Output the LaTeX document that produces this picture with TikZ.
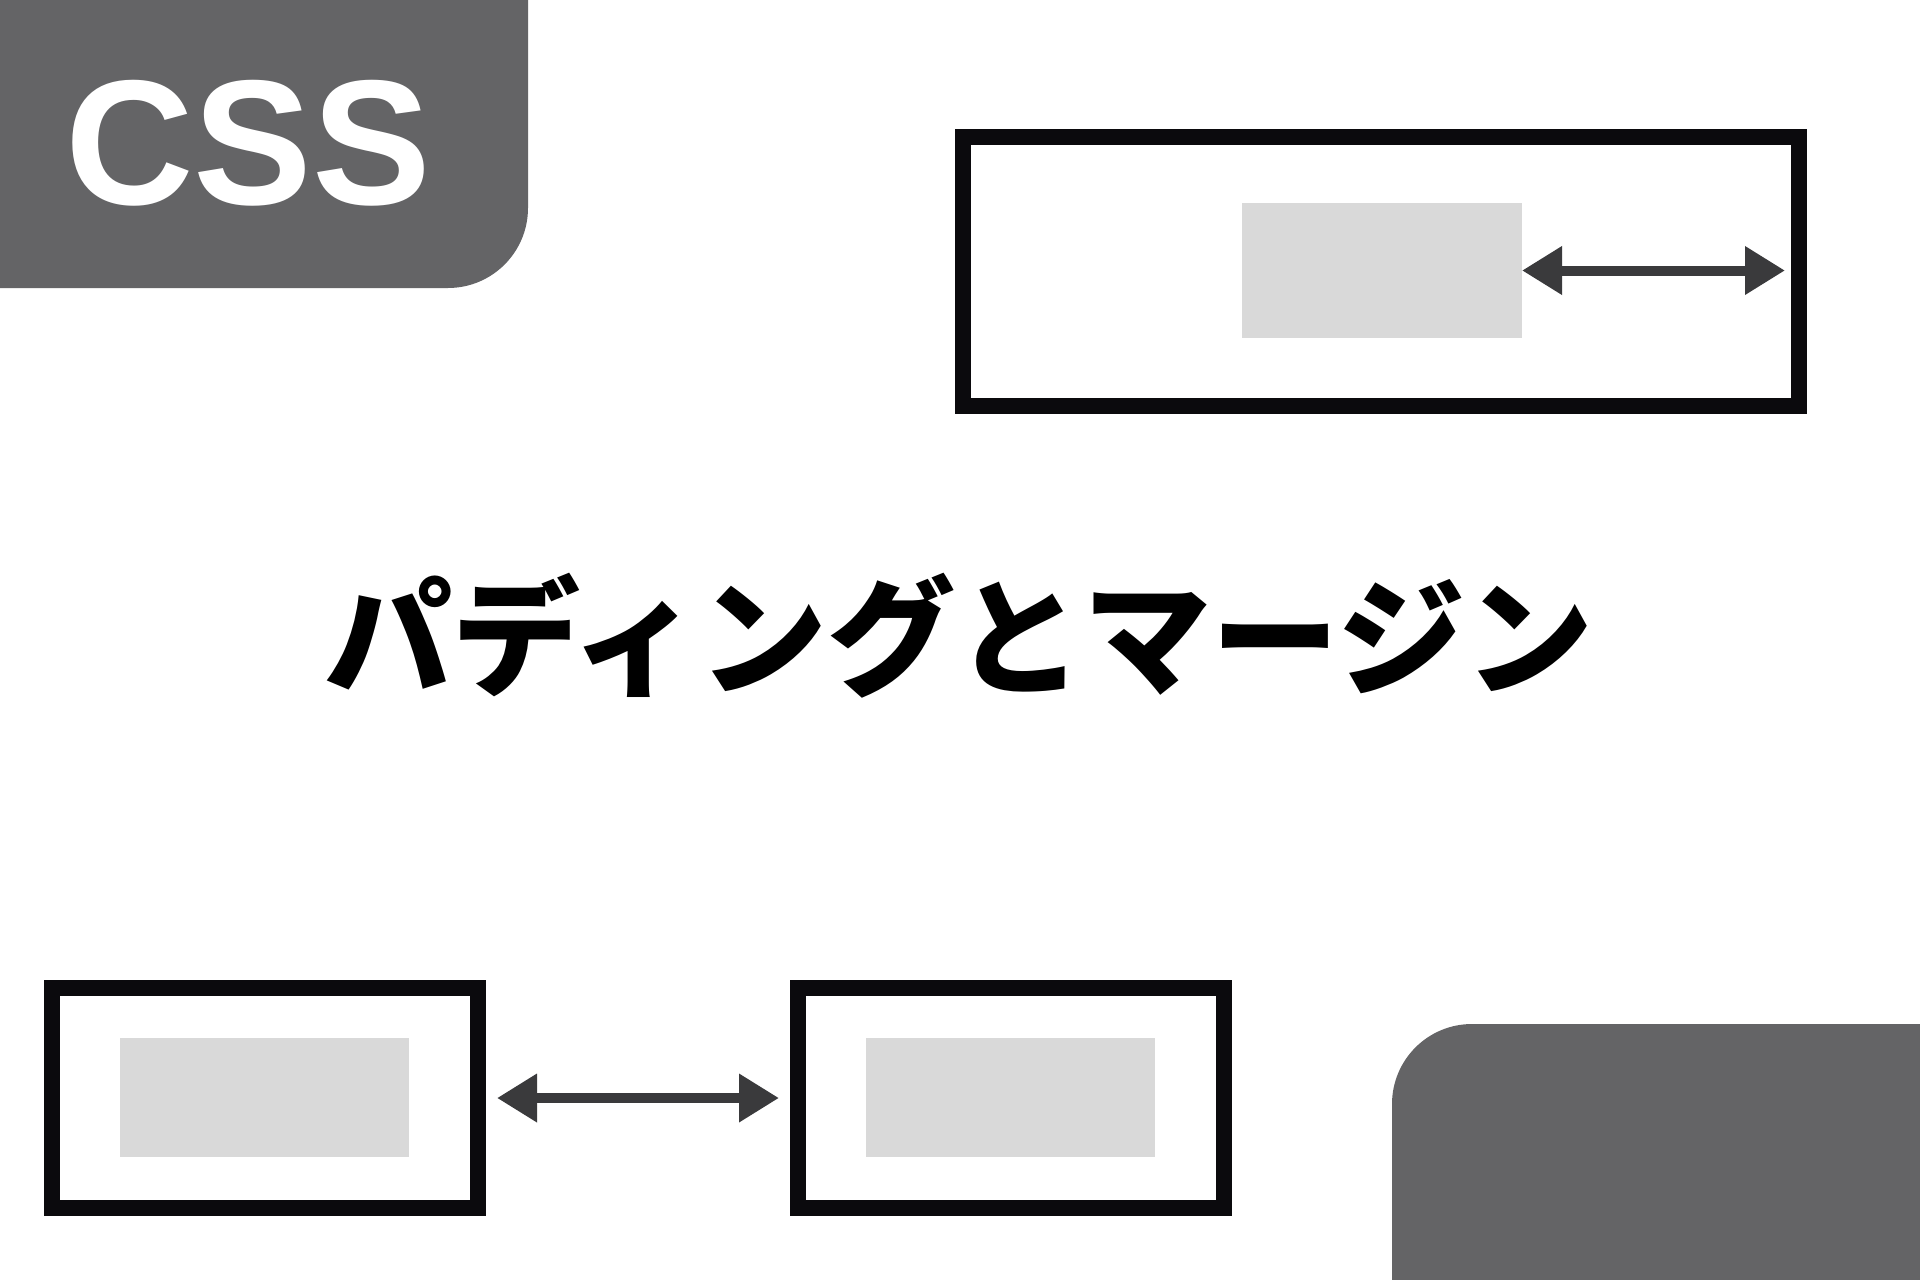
\documentclass[tikz,border=0pt]{standalone}
\usepackage{fontspec}
\setmainfont{Liberation Sans}
\newfontfamily\cjk{Noto Sans CJK JP}
\usetikzlibrary{arrows.meta}

\definecolor{panelgray}{HTML}{646466}
\definecolor{padgray}{HTML}{D9D9D9}
\definecolor{framecol}{HTML}{0B0A0D}
\definecolor{arrowcol}{HTML}{3A3A3C}

\tikzset{
  boxframe/.style={draw=framecol, line width=16pt, fill=white, inner sep=0pt,
    minimum width=#1},
  padfill/.style={fill=padgray, inner sep=0pt, outer sep=0pt},
  dimarrow/.style={draw=arrowcol, line width=10pt,
    {Triangle[length=40pt,width=46pt]}-{Triangle[length=40pt,width=46pt]}},
}

\begin{document}
\begin{tikzpicture}[x=1pt,y=-1pt]
\useasboundingbox (0,0) rectangle (1920,1280);
\fill[white] (0,0) rectangle (1920,1280);

% corner panels
\fill[panelgray, rounded corners=80pt] (-200,-200) -- (528,-200) -- (528,288) -- (-200,288) -- cycle;
\fill[panelgray, rounded corners=80pt] (1392,1024) -- (2200,1024) -- (2200,1500) -- (1392,1500) -- cycle;

\node[anchor=base west, text=white, font=\bfseries\fontsize{178}{178}\selectfont, inner sep=0pt]
  (csslabel) at (65,204) {CSS};

% padding
\node[boxframe=836pt, minimum height=269pt] (padbox) at (1381,271.5) {};
\node[padfill, minimum width=280pt, minimum height=135pt] (padtop) at (1382,270.5) {};
\coordinate (padedge) at (1785,270.5);
\draw[dimarrow] (padtop.east) -- (padedge);

\node[font=\cjk\bfseries\fontsize{128}{128}\selectfont, anchor=base, inner sep=0pt]
  (title) at (959,685) {パディングとマージン};

% margin
\node[boxframe=426pt, minimum height=220pt] (leftbox) at (265,1098) {};
\node[padfill, minimum width=289pt, minimum height=119pt] (leftpad) at (264.5,1097.5) {};
\node[boxframe=426pt, minimum height=220pt] (rightbox) at (1011,1098) {};
\node[padfill, minimum width=289pt, minimum height=119pt] (rightpad) at (1010.5,1097.5) {};
\draw[dimarrow, shorten <=11pt, shorten >=11pt] (leftbox.east) -- (rightbox.west);

\end{tikzpicture}
\end{document}
